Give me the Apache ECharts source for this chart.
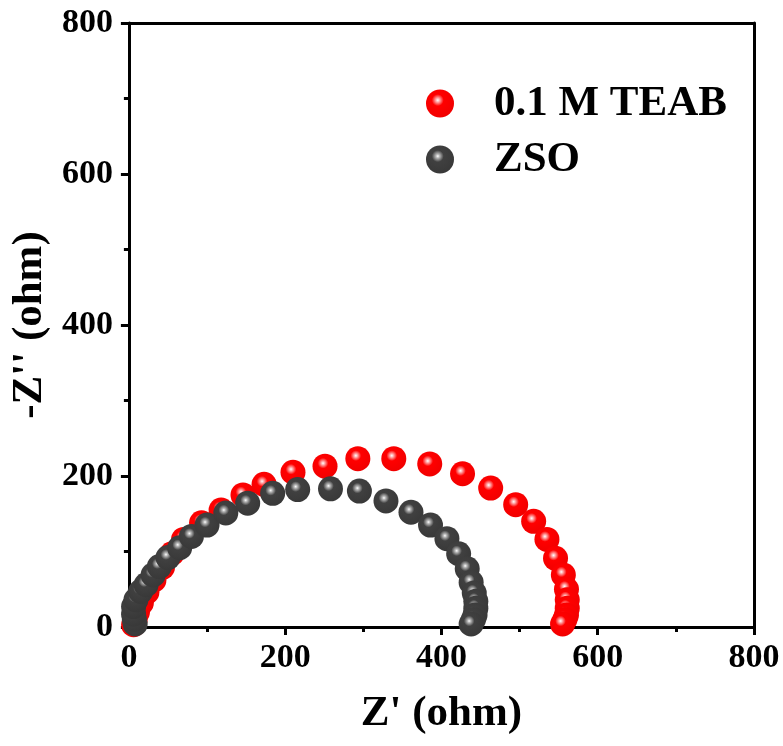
<!DOCTYPE html>
<html>

<head>
	<meta charset="UTF-8">
	<script src="https://cdn.jsdelivr.net/npm/echarts@6/dist/echarts.min.js"></script>
	<style>
		body {
			margin: 0;
			padding: 0;
			background: #ffffff;
		}

		#chart {
			width: 783px;
			height: 746px;
		}
	</style>
</head>

<body>
	<div id="chart"></div>
	<script>
		// 0.1 M TEAB  (Z', -Z'')
		var teabRe = [6, 8, 11, 16, 23, 32, 43, 55, 70, 93, 118, 146, 173, 210, 251, 293, 339, 385, 427, 463, 495, 518, 535, 546, 556, 560, 561, 561, 560, 558, 555];
		var teabIm = [3, 10, 20, 32, 46, 62, 79, 97, 116, 138, 155, 175, 189, 205, 213, 223, 223, 216, 203, 184, 162, 140, 116, 91, 69, 50, 36, 25, 16, 10, 4];
		// ZSO
		var zsoRe = [8, 7, 6, 6, 9, 15, 22, 31, 39, 50, 65, 80, 100, 124, 152, 184, 216, 258, 295, 329, 361, 386, 407, 422, 433, 438, 442, 444, 444, 443, 441, 438];
		var zsoIm = [4, 10, 17, 27, 36, 47, 56, 69, 80, 92, 105, 120, 135, 151, 164, 177, 182, 183, 180, 167, 152, 135, 117, 97, 77, 59, 45, 34, 25, 16, 10, 4];
		var seriesNames = ['0.1 M TEAB', 'ZSO'];

		var font = 'Liberation Serif';

		function pairs(a, b) {
			return a.map(function (v, i) { return [v, b[i]]; });
		}

		//球形的渐变色
		function ball(light, base, edge) {
			return {
				type: 'radial', x: 0.42, y: 0.38, r: 0.66,
				colorStops: [
					{ offset: 0, color: '#ffffff' },
					{ offset: 0.1, color: light },
					{ offset: 0.32, color: base },
					{ offset: 1, color: edge }
				]
			};
		}

		var axisCommon = {
			min: 0,
			max: 800,
			interval: 200,
			axisLine: { lineStyle: { color: '#000', width: 3 } },
			axisTick: { inside: false, length: 8, lineStyle: { width: 3, color: '#000' } },
			minorTick: { show: true, splitNumber: 2, length: 5, lineStyle: { width: 3, color: '#000' } },
			splitLine: { show: false },
			axisLabel: {
				color: '#000', fontFamily: font, fontWeight: 'bold', fontSize: 34
			},
			nameLocation: 'middle',
			nameTextStyle: { color: '#000', fontFamily: font, fontWeight: 'bold', fontSize: 43 }
		};

		var frame = {
			min: 0, max: 800, interval: 200,
			axisLine: { onZero: false, lineStyle: { color: '#000', width: 3 } },
			axisTick: { show: false },
			axisLabel: { show: false },
			splitLine: { show: false }
		};

		var chart = echarts.init(document.getElementById('chart'));
		chart.setOption({
			animation: false,
			backgroundColor: '#fff',
			grid: { left: 127.7, right: 29, top: 23, bottom: 119 },
			legend: {
				orient: 'vertical',
				left: 421,
				top: 77,
				itemWidth: 28,
				itemHeight: 28,
				itemGap: 13,
				icon: 'circle',
				textStyle: {
					color: '#000', fontFamily: font, fontWeight: 'bold', fontSize: 43,
					lineHeight: 43, padding: [0, 0, 0, 35]
				},
				data: seriesNames
			},
			xAxis: [
				Object.assign({}, axisCommon, {
					type: 'value', position: 'bottom', name: "Z' (ohm)", nameGap: 65,
					axisLabel: Object.assign({}, axisCommon.axisLabel, { margin: 14 })
				}),
				Object.assign({}, frame, { type: 'value', position: 'top' })
			],
			yAxis: [
				Object.assign({}, axisCommon, {
					type: 'value', position: 'left', name: "-Z'' (ohm)", nameGap: 66,
					axisLabel: Object.assign({}, axisCommon.axisLabel, { margin: 16 })
				}),
				Object.assign({}, frame, { type: 'value', position: 'right' })
			],
			series: [
				{
					name: seriesNames[0],
					type: 'scatter',
					symbol: 'circle',
					symbolSize: 25,
					itemStyle: { color: ball('#ffb0b0', '#ff0000', '#f00000'), opacity: 1 },
					data: pairs(teabRe, teabIm)
				},
				{
					name: seriesNames[1],
					type: 'scatter',
					symbol: 'circle',
					symbolSize: 25,
					itemStyle: { color: ball('#b8b8b8', '#404040', '#383838'), opacity: 1 },
					data: pairs(zsoRe, zsoIm)
				}
			]
		});
	</script>
</body>

</html>
